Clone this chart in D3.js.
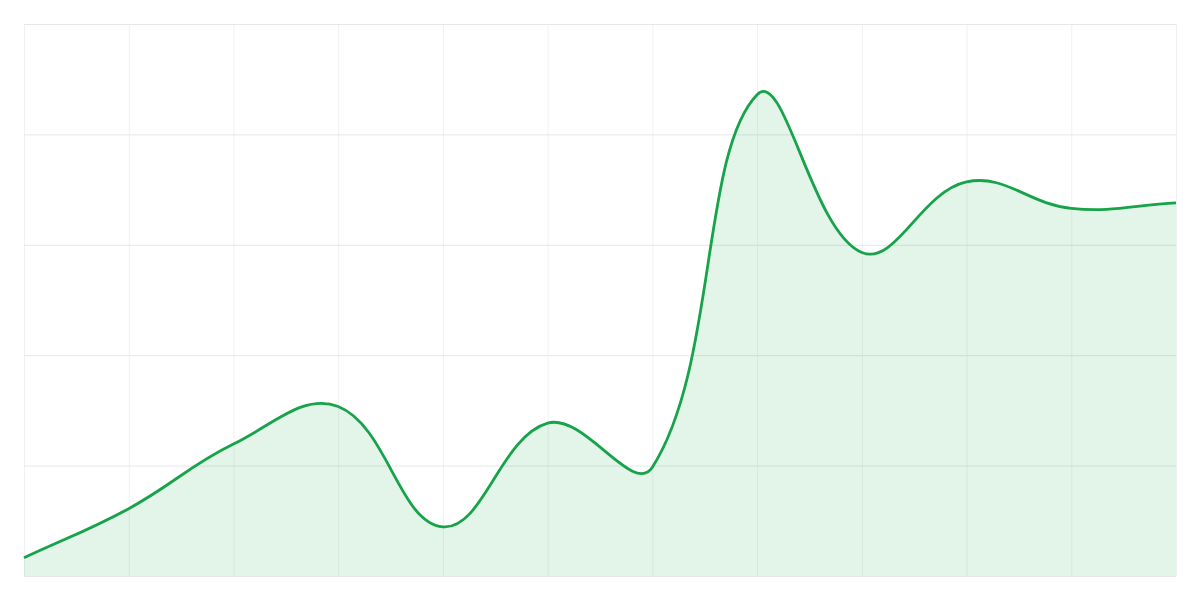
<!DOCTYPE html>
<html>
<head>
<meta charset="utf-8">
<script src="https://cdn.jsdelivr.net/npm/d3@7"></script>
<style>
  html, body { margin: 0; padding: 0; background: #fff; }
  svg { display: block; font-family: "Noto Sans", sans-serif; }
</style>
</head>
<body>
<div id="chart"></div>
<script>
    // one value per vertical grid line
    const categories = [0, 1, 2, 3, 4, 5, 6, 7, 8, 9, 10, 11];
    const values = [3.3, 12.2, 23.9, 30.7, 8.9, 27.7, 19.7, 87.2, 58.6, 71.4, 66.6, 67.6];
    const yTicks = [0, 20, 40, 60, 80, 100];

    const width = 1200, height = 600;
    const margin = { top: 24, right: 24, bottom: 24, left: 24 };
    const tension = 0.4;

    const svg = d3.select("#chart").append("svg")
        .attr("width", width)
        .attr("height", height);

    const x = d3.scaleLinear()
        .domain([categories[0], categories[categories.length - 1]])
        .range([margin.left, width - margin.right]);
    const y = d3.scaleLinear()
        .domain([0, 100])
        .range([height - margin.bottom, margin.top]);

    // vertical grid
    svg.append("g")
        .attr("transform", `translate(0,${height - margin.bottom})`)
        .call(d3.axisBottom(x).tickValues(categories).tickSize(-(height - margin.top - margin.bottom)).tickFormat(""))
        .call(g => g.select(".domain").remove())
        .call(g => g.selectAll(".tick line").attr("stroke", "#f0f1f3").attr("stroke-width", 1));

    // horizontal grid
    svg.append("g")
        .attr("transform", `translate(${margin.left},0)`)
        .call(d3.axisLeft(y).tickValues(yTicks).tickSize(-(width - margin.left - margin.right)).tickFormat(""))
        .call(g => g.select(".domain").remove())
        .call(g => g.selectAll(".tick line").attr("stroke", "#e5e7eb").attr("stroke-width", 1));

    // spline like the one with tension, scaled by neighbour distance
    function splineCurve(context) {
        return {
            _line: undefined,
            areaStart() { this._line = 0; },
            areaEnd() { this._line = NaN; },
            lineStart() { this._pts = []; },
            point(px, py) { this._pts.push([+px, +py]); },
            lineEnd() {
                const p = this._pts, n = p.length;
                if (!n) return;
                if (this._line) context.lineTo(p[0][0], p[0][1]);
                else context.moveTo(p[0][0], p[0][1]);
                if (n > 1) {
                    const cps = p.map((cur, i) => {
                        const prev = p[i - 1] || cur;
                        const next = p[i + 1] || cur;
                        const d01 = Math.hypot(cur[0] - prev[0], cur[1] - prev[1]);
                        const d12 = Math.hypot(next[0] - cur[0], next[1] - cur[1]);
                        let s01 = d01 / (d01 + d12), s12 = d12 / (d01 + d12);
                        if (isNaN(s01)) s01 = 0;
                        if (isNaN(s12)) s12 = 0;
                        const fa = tension * s01, fb = tension * s12;
                        const clampX = v => Math.max(margin.left, Math.min(width - margin.right, v));
                        const clampY = v => Math.max(margin.top, Math.min(height - margin.bottom, v));
                        return {
                            prev: [clampX(cur[0] - fa * (next[0] - prev[0])), clampY(cur[1] - fa * (next[1] - prev[1]))],
                            next: [clampX(cur[0] + fb * (next[0] - prev[0])), clampY(cur[1] + fb * (next[1] - prev[1]))]
                        };
                    });
                    for (let i = 0; i < n - 1; i++) {
                        context.bezierCurveTo(cps[i].next[0], cps[i].next[1],
                            cps[i + 1].prev[0], cps[i + 1].prev[1], p[i + 1][0], p[i + 1][1]);
                    }
                }
                if (this._line || (this._line !== 0 && n === 1)) context.closePath();
                this._line = 1 - this._line;
            }
        };
    }

    const area = d3.area()
        .x((d, i) => x(categories[i]))
        .y0(y(0))
        .y1(d => y(d))
        .curve(splineCurve);

    const line = d3.line()
        .x((d, i) => x(categories[i]))
        .y(d => y(d))
        .curve(splineCurve);

    svg.append("path")
        .datum(values)
        .attr("d", area)
        .attr("fill", "rgba(22,163,74,0.12)");

    svg.append("path")
        .datum(values)
        .attr("d", line)
        .attr("fill", "none")
        .attr("stroke", "#16a34a")
        .attr("stroke-width", 2.8)
        .attr("stroke-linejoin", "round");
</script>
</body>
</html>
